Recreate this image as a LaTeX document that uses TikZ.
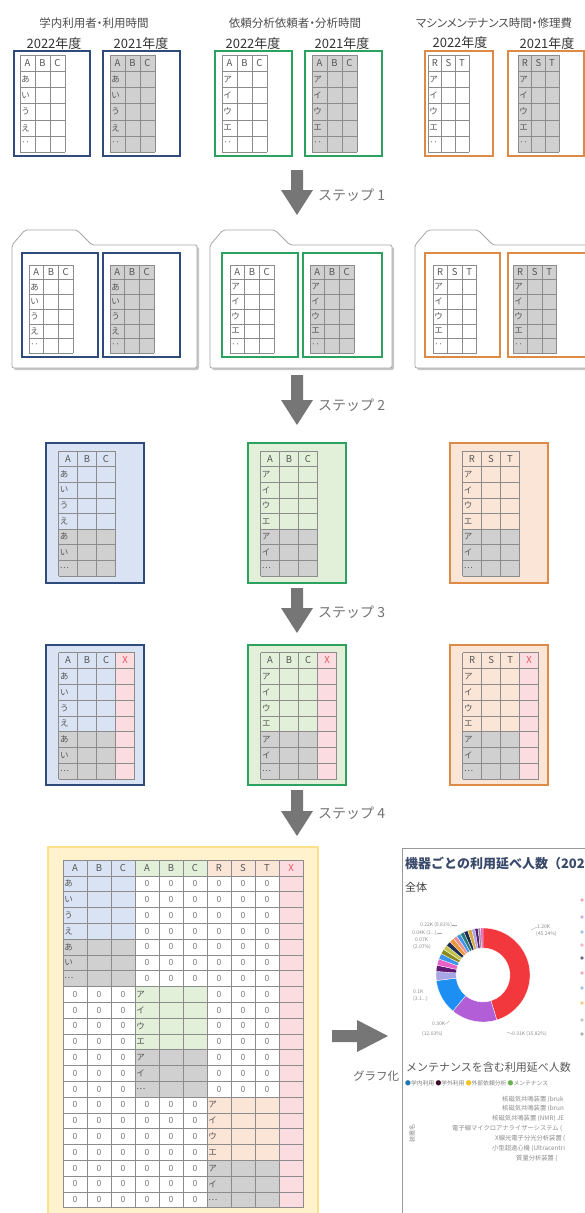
\documentclass[tikz,border=0pt]{standalone}
\usepackage{fontspec}
\setmainfont{Noto Sans CJK JP}
\newfontfamily\jpp[RawFeature=+palt]{Noto Sans CJK JP}
\usetikzlibrary{shadows}

\definecolor{navyfr}{HTML}{2F4B7C}
\definecolor{greenfr}{HTML}{2BA35E}
\definecolor{orangefr}{HTML}{DD8A47}
\definecolor{bluebg}{HTML}{DAE3F3}
\definecolor{greenbg}{HTML}{E2F0D9}
\definecolor{orangebg}{HTML}{FBE5D6}
\definecolor{cellgrey}{HTML}{D0D0D0}
\definecolor{pinkbg}{HTML}{FBDDE1}
\definecolor{xred}{HTML}{E0565B}
\definecolor{gridgrey}{HTML}{8C8C8C}
\definecolor{txtgrey}{HTML}{555555}
\definecolor{argrey}{HTML}{767676}
\definecolor{ylwln}{HTML}{FFE08A}
\definecolor{ylwbg}{HTML}{FFF2CC}
\definecolor{foldln}{HTML}{A6A6A6}
\definecolor{charttl}{HTML}{3A4A6B}
\definecolor{dnred}{HTML}{F2383D}
\definecolor{dnpurp}{HTML}{B25ED6}
\definecolor{dnblue}{HTML}{1E8FF2}
\definecolor{dnlav}{HTML}{A9A6E6}
\definecolor{dnplum}{HTML}{5E1A72}
\definecolor{dnpink}{HTML}{E860C8}
\definecolor{dnsky}{HTML}{3C94F0}
\definecolor{dnolive}{HTML}{8C8A1E}
\definecolor{dnlime}{HTML}{C5C44A}
\definecolor{dnnavy}{HTML}{1C2C52}
\definecolor{dnorange}{HTML}{EA963A}
\definecolor{dnsalmon}{HTML}{F08C8C}
\definecolor{dnteal}{HTML}{2B7D7A}
\definecolor{dngold}{HTML}{D9A83C}
\definecolor{dngrey}{HTML}{8C8C8C}
\definecolor{lgA}{HTML}{1F78B4}
\definecolor{lgB}{HTML}{3A0C2A}
\definecolor{lgC}{HTML}{F3C21A}
\definecolor{lgD}{HTML}{6AB04C}

\tikzset{
  frm/.style={line width=2.6pt},
  cellline/.style={gridgrey, line width=0.6pt},
  headtxt/.style={inner sep=0pt, text=txtgrey, font=\fontsize{9.5}{10}\selectfont},
  rowtxt/.style={inner sep=0pt, anchor=west, text=txtgrey, font=\fontsize{8.5}{9}\selectfont},
  zerotxt/.style={inner sep=0pt, text=txtgrey!80, font=\fontsize{8.5}{9}\selectfont},
  grptitle/.style={inner sep=0pt, text=black!70, font=\jpp\fontsize{11.5}{12}\selectfont},
  yeartxt/.style={inner sep=0pt, text=black!80, font=\fontsize{13}{14}\selectfont},
  steptxt/.style={inner sep=0pt, anchor=west, text=black!55, font=\fontsize{14}{15}\selectfont},
  folderln/.style={draw=foldln, fill=white, line width=0.8pt, rounded corners=2pt,
    drop shadow={shadow xshift=2pt, shadow yshift=-2pt, opacity=0.45}},
  tinytxt/.style={inner sep=0pt, anchor=west, text=black!45, font=\fontsize{5}{6}\selectfont},
  barlbl/.style={inner sep=0pt, anchor=west, text=black!45, font=\fontsize{6.3}{7}\selectfont},
  leader/.style={black!35, line width=0.4pt}
}

\newcommand\tblgrid[6]{%
  \foreach \gi in {0,...,#5}
    \draw[cellline] ({#1+\gi*#3},#2) -- ({#1+\gi*#3},{#2+#6*#4});
  \foreach \gj in {0,...,#6}
    \draw[cellline] (#1,{#2+\gj*#4}) -- ({#1+#5*#3},{#2+\gj*#4});
}
\newcommand\tblhead[6]{%
  \foreach \lbl [count=\ci] in {#6}
    \node[headtxt] (#1h\ci) at ({#2+(\ci-0.5)*#4},{#3+0.5*#5}) {\lbl};
}
\newcommand\tblrows[6]{%
  \foreach \lbl [count=\ri] in {#6}
    \node[rowtxt] (#1r\ri) at ({#2+1.2},{#3+(\ri+0.5)*#5}) {\lbl};
}
\newcommand\smalltbl[7]{%
  \tblgrid{#2}{#3}{#4}{#5}{3}{6}
  \tblhead{#1}{#2}{#3}{#4}{#5}{#6}
  \tblrows{#1}{#2}{#3}{#4}{#5}{#7}
}
\newcommand\folder[3]{%
  \filldraw[folderln] (#1,368) -- (#1,245) -- ({#1+13},230) -- ({#3-15},230)
    -- (#3,245) -- (#2,245) -- (#2,368) -- cycle;
}
\newcommand\downar[2]{%
  \fill[argrey] (291,#1) -- (303,#1) -- (303,{#2-25}) -- (313,{#2-25}) -- (297,#2)
    -- (281,{#2-25}) -- (291,{#2-25}) -- cycle;
}

\begin{document}
\begin{tikzpicture}[x=1pt, y=-1pt]
  \useasboundingbox (0,0) rectangle (585,1213);

  \node[grptitle] (ttlA) at (94,23) {学内利用者・利用時間};
  \node[grptitle] (ttlB) at (295,23) {依頼分析依頼者・分析時間};
  \node[grptitle] (ttlC) at (494,23) {マシンメンテナンス時間・修理費};
  \node[yeartxt] (yrA1) at (54,44) {2022年度};
  \node[yeartxt] (yrA2) at (141,44) {2021年度};
  \node[yeartxt] (yrB1) at (253,44) {2022年度};
  \node[yeartxt] (yrB2) at (342,44) {2021年度};
  \node[yeartxt] (yrC1) at (460,43) {2022年度};
  \node[yeartxt] (yrC2) at (547,44) {2021年度};

  \fill[cellgrey] (110,55) rectangle (155,152.2);
  \fill[cellgrey] (312,55) rectangle (357,152.2);
  \fill[cellgrey] (518,55) rectangle (558.8,152.2);
  \smalltbl{a1}{20}{55}{15}{16.2}{A,B,C}{あ,い,う,え,‥}
  \smalltbl{a2}{110}{55}{15}{16.2}{A,B,C}{あ,い,う,え,‥}
  \smalltbl{b1}{222}{55}{15}{16.2}{A,B,C}{ア,イ,ウ,エ,‥}
  \smalltbl{b2}{312}{55}{15}{16.2}{A,B,C}{ア,イ,ウ,エ,‥}
  \smalltbl{c1}{428}{55}{13.6}{16.2}{R,S,T}{ア,イ,ウ,エ,‥}
  \smalltbl{c2}{518}{55}{13.6}{16.2}{R,S,T}{ア,イ,ウ,エ,‥}
  \draw[frm, navyfr] (14,51) rectangle (90,156);
  \draw[frm, navyfr] (103,51) rectangle (180,156);
  \draw[frm, greenfr] (215,51) rectangle (292,156);
  \draw[frm, greenfr] (305,51) rectangle (382,156);
  \draw[frm, orangefr] (425,51) rectangle (493,156);
  \draw[frm, orangefr] (508,51) rectangle (584,156);

  \downar{170}{215}
  \node[steptxt] (step1) at (318,195) {ステップ 1};

  \folder{12}{197}{92}
  \folder{210}{392}{290}
  \folder{415}{600}{493}
  \fill[cellgrey] (110,265) rectangle (154.1,353.2);
  \fill[cellgrey] (310,265) rectangle (354.1,353.2);
  \fill[cellgrey] (513,265) rectangle (556.5,353.2);
  \smalltbl{d1}{29}{265}{14.7}{14.7}{A,B,C}{あ,い,う,え,‥}
  \smalltbl{d2}{110}{265}{14.7}{14.7}{A,B,C}{あ,い,う,え,‥}
  \smalltbl{e1}{230}{265}{14.7}{14.7}{A,B,C}{ア,イ,ウ,エ,‥}
  \smalltbl{e2}{310}{265}{14.7}{14.7}{A,B,C}{ア,イ,ウ,エ,‥}
  \smalltbl{f1}{433}{265}{14.5}{14.7}{R,S,T}{ア,イ,ウ,エ,‥}
  \smalltbl{f2}{513}{265}{14.5}{14.7}{R,S,T}{ア,イ,ウ,エ,‥}
  \draw[frm, navyfr] (22,253) rectangle (98,357);
  \draw[frm, navyfr] (103,253) rectangle (180,357);
  \draw[frm, greenfr] (222,253) rectangle (298,357);
  \draw[frm, greenfr] (303,253) rectangle (382,357);
  \draw[frm, orangefr] (425,253) rectangle (500,357);
  \draw[frm, orangefr] (508,253) rectangle (590,357);

  \downar{375}{425}
  \node[steptxt] (step2) at (318,405) {ステップ 2};

  \filldraw[frm, navyfr, fill=bluebg] (46,443) rectangle (144,583);
  \filldraw[frm, greenfr, fill=greenbg] (248,443) rectangle (346,583);
  \filldraw[frm, orangefr, fill=orangebg] (450,443) rectangle (548,583);
  \fill[cellgrey] (58.5,529) rectangle (115.5,575.8);
  \fill[cellgrey] (260.5,529) rectangle (317.5,575.8);
  \fill[cellgrey] (462.5,529) rectangle (519.5,575.8);
  \tblgrid{58.5}{451}{19}{15.6}{3}{8}
  \tblgrid{260.5}{451}{19}{15.6}{3}{8}
  \tblgrid{462.5}{451}{19}{15.6}{3}{8}
  \tblhead{g1}{58.5}{451}{19}{15.6}{A,B,C}
  \tblhead{g2}{260.5}{451}{19}{15.6}{A,B,C}
  \tblhead{g3}{462.5}{451}{19}{15.6}{R,S,T}
  \tblrows{g1}{58.5}{451}{19}{15.6}{あ,い,う,え,あ,い,…}
  \tblrows{g2}{260.5}{451}{19}{15.6}{ア,イ,ウ,エ,ア,イ,…}
  \tblrows{g3}{462.5}{451}{19}{15.6}{ア,イ,ウ,エ,ア,イ,…}

  \downar{588}{633}
  \node[steptxt] (step3) at (318,612) {ステップ 3};

  \filldraw[frm, navyfr, fill=bluebg] (46,645) rectangle (144,785);
  \filldraw[frm, greenfr, fill=greenbg] (248,645) rectangle (346,785);
  \filldraw[frm, orangefr, fill=orangebg] (450,645) rectangle (548,785);
  \fill[cellgrey] (58.6,731.6) rectangle (115.6,779);
  \fill[cellgrey] (260.6,731.6) rectangle (317.6,779);
  \fill[cellgrey] (462.6,731.6) rectangle (519.6,779);
  \fill[pinkbg] (115.6,652.6) rectangle (134.6,779);
  \fill[pinkbg] (317.6,652.6) rectangle (336.6,779);
  \fill[pinkbg] (519.6,652.6) rectangle (538.6,779);
  \tblgrid{58.6}{652.6}{19}{15.8}{4}{8}
  \tblgrid{260.6}{652.6}{19}{15.8}{4}{8}
  \tblgrid{462.6}{652.6}{19}{15.8}{4}{8}
  \tblhead{k1}{58.6}{652.6}{19}{15.8}{A,B,C,\textcolor{xred}{X}}
  \tblhead{k2}{260.6}{652.6}{19}{15.8}{A,B,C,\textcolor{xred}{X}}
  \tblhead{k3}{462.6}{652.6}{19}{15.8}{R,S,T,\textcolor{xred}{X}}
  \tblrows{k1}{58.6}{652.6}{19}{15.8}{あ,い,う,え,あ,い,…}
  \tblrows{k2}{260.6}{652.6}{19}{15.8}{ア,イ,ウ,エ,ア,イ,…}
  \tblrows{k3}{462.6}{652.6}{19}{15.8}{ア,イ,ウ,エ,ア,イ,…}

  \downar{790}{836}
  \node[steptxt] (step4) at (318,813) {ステップ 4};

  \filldraw[draw=ylwln, fill=ylwbg, line width=2pt] (48,847) rectangle (318,1216);
  \fill[white] (63,860) rectangle (303,1207.6);
  \fill[bluebg] (63,860) rectangle (135,939);
  \fill[greenbg] (135,860) rectangle (207,875.8);
  \fill[orangebg] (207,860) rectangle (279,875.8);
  \fill[pinkbg] (279,860) rectangle (303,1207.6);
  \fill[cellgrey] (63,939) rectangle (135,986.4);
  \fill[greenbg] (135,986.4) rectangle (207,1049.6);
  \fill[cellgrey] (135,1049.6) rectangle (207,1097);
  \fill[orangebg] (207,1097) rectangle (279,1160.2);
  \fill[cellgrey] (207,1160.2) rectangle (279,1207.6);
  \tblgrid{63}{860}{24}{15.8}{10}{22}
  \tblhead{m}{63}{860}{24}{15.8}{A,B,C,A,B,C,R,S,T,\textcolor{xred}{X}}
  \tblrows{mA}{63}{860}{24}{15.8}{あ,い,う,え,あ,い,…}
  \tblrows{mB}{135}{970.6}{24}{15.8}{ア,イ,ウ,エ,ア,イ,…}
  \tblrows{mC}{207}{1081.2}{24}{15.8}{ア,イ,ウ,エ,ア,イ,…}
  \foreach \ri in {1,...,7}{\foreach \ci in {4,...,9}{
    \node[zerotxt] (z\ri-\ci) at ({63+(\ci-0.5)*24},{860+(\ri+0.5)*15.8}) {0};}}
  \foreach \ri in {8,...,14}{\foreach \ci in {1,2,3,7,8,9}{
    \node[zerotxt] (z\ri-\ci) at ({63+(\ci-0.5)*24},{860+(\ri+0.5)*15.8}) {0};}}
  \foreach \ri in {15,...,21}{\foreach \ci in {1,...,6}{
    \node[zerotxt] (z\ri-\ci) at ({63+(\ci-0.5)*24},{860+(\ri+0.5)*15.8}) {0};}}

  \fill[argrey] (332,1030) -- (357,1030) -- (357,1020) -- (388,1036) -- (357,1052)
    -- (357,1042) -- (332,1042) -- cycle;
  \node[inner sep=0pt, text=black!60, font=\fontsize{11.5}{12}\selectfont] (graph) at (376,1076) {グラフ化};

  \filldraw[draw=black!40, fill=white, line width=0.8pt] (402,848) rectangle (600,1220);
  \node[inner sep=0pt, anchor=west, text=charttl, font=\bfseries\fontsize{13}{14}\selectfont] (chttl) at (405,863) {機器ごとの利用延べ人数（202};
  \node[inner sep=0pt, anchor=west, text=black!75, font=\fontsize{11}{12}\selectfont] (zentai) at (405,887) {全体};
  \begin{scope}[shift={(483,975)}, y=1pt]
    \foreach \a/\b/\dc in {90/-72.9/dnred, -72.9/-129.9/dnpurp, -129.9/-173.2/dnblue,
        -173.2/-184.4/dnlav, -184.4/-192/dnplum, -192/-200/dnpink, -200/-207/dnsky,
        -207/-213/dnolive, -213/-219/dnlime, -219/-225/dnnavy, -225/-231/dnorange,
        -231/-236/dnsalmon, -236/-241/dnsky, -241/-246/dnteal, -246/-251/dnnavy,
        -251/-256/dngold, -256/-260/dnlav, -260/-264/dnplum, -264/-267/dngrey, -267/-270/dnpink}
      \filldraw[fill=\dc, draw=white, line width=0.3pt] (\a:47) arc[start angle=\a, end angle=\b, radius=47]
        -- (\b:27) arc[start angle=\b, end angle=\a, radius=27] -- cycle;
  \end{scope}
  \node[tinytxt] (lb120) at (537,927) {1.20K};
  \node[tinytxt] (lb120p) at (536,934) {(45.24\%)};
  \node[tinytxt] (lb022) at (420,925) {0.22K (0.81\%)};
  \node[tinytxt] (lb004) at (412,933) {0.04K (1...)};
  \node[tinytxt] (lb007) at (415,940) {0.07K};
  \node[tinytxt] (lb007p) at (413,947) {(2.07\%)};
  \node[tinytxt] (lb01) at (413,992) {0.1K};
  \node[tinytxt] (lb01p) at (413,999) {(3.1...)};
  \node[tinytxt] (lb030) at (432,1024) {0.30K};
  \node[tinytxt] (lb030p) at (422,1034) {(12.03\%)};
  \node[tinytxt] (lb031) at (512,1034) {0.31K (15.82\%)};
  \draw[leader] (lb022.east) -- ++(5,0);
  \draw[leader] (lb004.east) -- ++(5,0);
  \draw[leader] (lb120.west) -- ++(-6,3);
  \draw[leader] (lb031.west) -- ++(-5,-2);
  \draw[leader] (lb030.east) -- ++(4,-3);
  \foreach \ly/\lc in {900/F4A6B8, 917/C9B3E0, 932/9EC3E6, 945/F0B6D0, 958/6A6A8A,
      973/F2A6C4, 988/9EC3E6, 1003/F0D080, 1020/C8C8C8, 1034/B0B0B0}{
    \definecolor{lgdot}{HTML}{\lc}
    \fill[lgdot] (582,\ly) circle (1.8);}

  \node[inner sep=0pt, anchor=west, text=black!65, font=\fontsize{11}{12}\selectfont] (mttl) at (406,1067) {メンテナンスを含む利用延べ人数};
  \node[inner sep=0pt, anchor=west, text=black!50, font=\fontsize{5.8}{6}\selectfont] (mleg) at (405,1083)
    {\textcolor{lgA}{●}学内利用 \textcolor{lgB}{●}学外利用 \textcolor{lgC}{●}外部依頼分析 \textcolor{lgD}{●}メンテナンス};
  \node[barlbl] (bar1) at (502,1099) {核磁気共鳴装置 (bruk};
  \node[barlbl] (bar2) at (502,1108) {核磁気共鳴装置 (brun};
  \node[barlbl] (bar3) at (492,1118) {核磁気共鳴装置 (NMR) JE};
  \node[barlbl] (bar4) at (452,1128) {電子線マイクロアナライザーシステム (};
  \node[barlbl] (bar5) at (495,1138) {X線光電子分光分析装置 (};
  \node[barlbl] (bar6) at (492,1148) {小型超遠心機 (Ultracentri};
  \node[barlbl] (bar7) at (516,1158) {質量分析装置 (};
  \node[inner sep=0pt, rotate=90, text=black!45, font=\fontsize{6}{6}\selectfont] (axis) at (412,1133) {装置名};
\end{tikzpicture}
\end{document}
